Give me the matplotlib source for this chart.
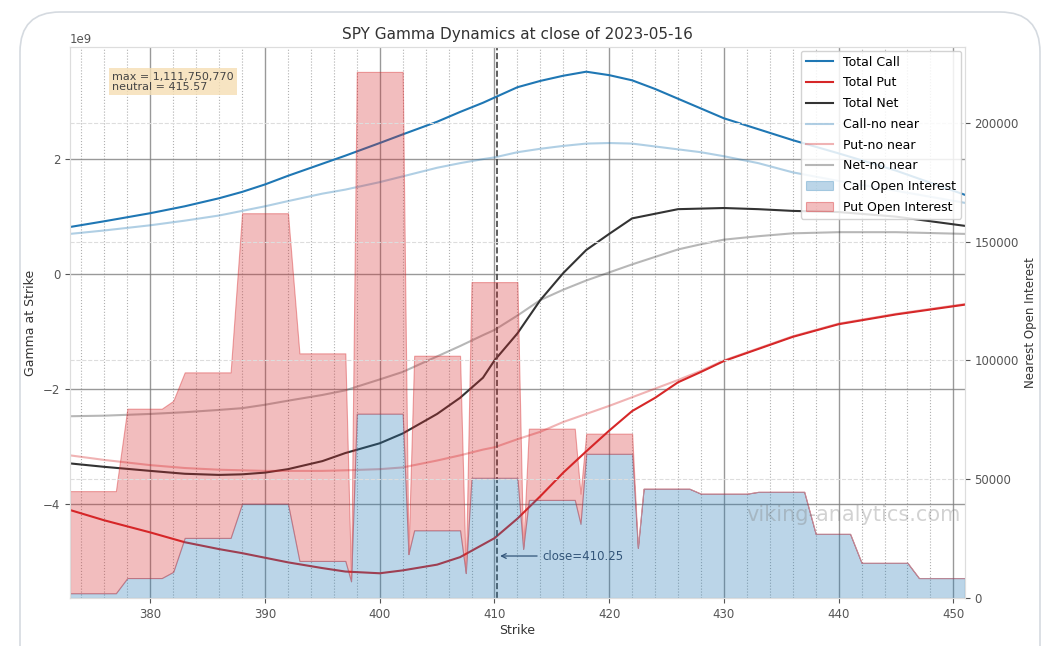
import matplotlib
matplotlib.use("Agg")
import matplotlib.pyplot as plt
from matplotlib.patches import FancyBboxPatch
from matplotlib.ticker import MultipleLocator
from matplotlib.transforms import IdentityTransform

# =========================
# data
# =========================
close_price = 410.25
max_gamma = 1111750770
neutral = 415.57

g_strikes = [373, 376, 380, 383, 386, 388, 390, 392, 395, 397, 400, 402, 405, 407, 409, 410,
             412, 414, 416, 418, 420, 422, 424, 426, 428, 430, 433, 436, 440, 445, 451]

# gamma in units of 1e9
total_call = [0.82, 0.92, 1.06, 1.18, 1.32, 1.43, 1.56, 1.71, 1.92, 2.06, 2.28, 2.43, 2.65, 2.82, 2.98, 3.07,
              3.25, 3.36, 3.45, 3.52, 3.46, 3.37, 3.22, 3.05, 2.88, 2.71, 2.52, 2.33, 2.10, 1.80, 1.38]
total_put = [-4.10, -4.28, -4.49, -4.66, -4.78, -4.85, -4.93, -5.01, -5.11, -5.17, -5.20, -5.15, -5.05, -4.92, -4.70, -4.59,
             -4.25, -3.86, -3.45, -3.08, -2.72, -2.38, -2.15, -1.88, -1.70, -1.51, -1.30, -1.09, -0.87, -0.70, -0.53]
total_net = [-3.29, -3.35, -3.42, -3.47, -3.49, -3.48, -3.45, -3.39, -3.25, -3.11, -2.94, -2.77, -2.43, -2.15, -1.80, -1.50,
             -1.03, -0.45, 0.02, 0.42, 0.70, 0.97, 1.05, 1.13, 1.14, 1.15, 1.13, 1.10, 1.08, 1.00, 0.84]
call_no_near = [0.70, 0.76, 0.85, 0.93, 1.02, 1.10, 1.18, 1.27, 1.40, 1.47, 1.60, 1.70, 1.85, 1.93, 2.00, 2.03,
                2.12, 2.18, 2.23, 2.27, 2.28, 2.27, 2.22, 2.17, 2.12, 2.05, 1.93, 1.77, 1.62, 1.45, 1.24]
put_no_near = [-3.15, -3.23, -3.32, -3.37, -3.40, -3.41, -3.42, -3.42, -3.42, -3.41, -3.39, -3.36, -3.24, -3.15, -3.05, -3.01,
               -2.87, -2.74, -2.57, -2.43, -2.29, -2.14, -1.99, -1.84, -1.68, -1.50, -1.29, -1.08, -0.86, -0.69, -0.52]
net_no_near = [-2.47, -2.46, -2.43, -2.40, -2.36, -2.33, -2.27, -2.20, -2.10, -2.02, -1.83, -1.70, -1.43, -1.25, -1.06, -0.97,
               -0.72, -0.45, -0.27, -0.11, 0.03, 0.17, 0.30, 0.43, 0.52, 0.60, 0.66, 0.71, 0.73, 0.73, 0.70]

oi_strikes = [373, 377, 378, 381, 382, 383, 387, 388, 392, 393, 397, 397.5, 398, 402, 402.5, 403, 407, 407.5, 408,
              412, 412.5, 413, 417, 417.5, 418, 422, 422.5, 423, 427, 428, 432, 433, 437, 438, 441, 442, 446, 447, 451]
call_oi = [2000, 2000, 8400, 8400, 11000, 25300, 25300, 39700, 39700, 15600, 15600, 7000, 77600, 77600, 18500, 28500,
           28500, 10500, 50600, 50600, 20700, 41300, 41300, 31200, 60700, 60700, 21100, 46000, 46000, 43900, 43900,
           44700, 44700, 27000, 27000, 14800, 14800, 8400, 8400]
# upper edge of the put area (stacked on the call area)
put_oi_top = [45000, 45000, 79700, 79700, 83000, 95000, 95000, 162000, 162000, 103000, 103000, 8400, 221500, 221500,
              18500, 102000, 102000, 10500, 133000, 133000, 20700, 71300, 71300, 43900, 69200, 69200, 21100, 46000,
              46000, 43900, 43900, 44700, 44700, 27000, 27000, 14800, 14800, 8400, 8400]

# =========================
# plot
# =========================
fig = plt.figure(figsize=(10.54, 6.46), dpi=100)
fig.patches.append(FancyBboxPatch((20, -40), 1020, 674, boxstyle="round,pad=0,rounding_size=40",
                                  transform=IdentityTransform(), fill=False, ec="#d5dae0", lw=1.2))

ax1 = fig.add_axes([0.0664, 0.0743, 0.849, 0.853])
ax2 = ax1.twinx()

s = 1e9
l1, = ax1.plot(g_strikes, [v * s for v in total_call], color="tab:blue", lw=1.5, label="Total Call")
l2, = ax1.plot(g_strikes, [v * s for v in total_put], color="tab:red", lw=1.5, label="Total Put")
l3, = ax1.plot(g_strikes, [v * s for v in total_net], color="#333333", lw=1.5, label="Total Net")
l4, = ax1.plot(g_strikes, [v * s for v in call_no_near], color="tab:blue", alpha=0.35, lw=1.5, label="Call-no near")
l5, = ax1.plot(g_strikes, [v * s for v in put_no_near], color="tab:red", alpha=0.35, lw=1.5, label="Put-no near")
l6, = ax1.plot(g_strikes, [v * s for v in net_no_near], color="#333333", alpha=0.35, lw=1.5, label="Net-no near")

ax1.axvline(close_price, color="#444444", ls="--", lw=1.2)
ax1.annotate(f"close={close_price}", xy=(close_price, -4.9e9), xytext=(414.2, -4.9e9),
             va="center", ha="left", fontsize=8.5, color="#3a4660",
             arrowprops=dict(arrowstyle="->", color="#3a4660", lw=0.9))

ax1.text(0.047, 0.955, f"max = {max_gamma:,}\nneutral = {neutral}", transform=ax1.transAxes,
         va="top", ha="left", fontsize=8, color="#444444", linespacing=1.0,
         bbox=dict(boxstyle="square,pad=0.3", fc="wheat", ec="none", alpha=0.8))

f1 = ax2.fill_between(oi_strikes, 0, call_oi, color="tab:blue", alpha=0.3, lw=0.8, label="Call Open Interest")
f2 = ax2.fill_between(oi_strikes, call_oi, put_oi_top, fc=(0.84, 0.15, 0.16, 0.3), ec=(0.84, 0.15, 0.16, 0.4),
                      lw=0.8, label="Put Open Interest")

ax2.text(0.995, 0.15, "viking-analytics.com", transform=ax2.transAxes, ha="right", va="center",
         fontsize=15, color="gray", alpha=0.35, zorder=5)

# -------- axes --------
ax1.set_xlim(373, 451)
ax1.set_ylim(-5.63e9, 3.95e9)
ax2.set_ylim(0, 232000)
ax1.xaxis.set_major_locator(MultipleLocator(10))
ax1.xaxis.set_minor_locator(MultipleLocator(2))
ax1.yaxis.set_major_locator(MultipleLocator(2e9))
ax2.yaxis.set_major_locator(MultipleLocator(50000))

ax1.grid(which="major", axis="both", color="#808080", lw=1.0, alpha=0.8)
ax1.grid(which="minor", axis="x", color="#b0b0b0", ls=":", lw=0.8)
ax2.grid(axis="y", color="#dddddd", ls="--", lw=0.8)
ax1.set_axisbelow(True)

for ax in (ax1, ax2):
    ax.tick_params(labelsize=8.5, colors="#555555", which="both")
    ax.tick_params(which="minor", length=0)
    for sp in ax.spines.values():
        sp.set_color("#dddddd")
ax1.yaxis.get_offset_text().set_fontsize(8.5)
ax1.yaxis.get_offset_text().set_color("#555555")

ax1.set_title("SPY Gamma Dynamics at close of 2023-05-16", fontsize=11, color="#333333")
ax1.set_xlabel("Strike", fontsize=9, color="#333333", labelpad=2)
ax1.set_ylabel("Gamma at Strike", fontsize=9, color="#333333")
ax2.set_ylabel("Nearest Open Interest", fontsize=8.5, color="#333333")

ax2.legend(handles=[l1, l2, l3, l4, l5, l6, f1, f2], loc="upper right", fontsize=9,
           framealpha=0.85, handlelength=2.2, labelspacing=0.62, borderaxespad=0.3)

plt.savefig("out.png", dpi=100)
plt.close()
